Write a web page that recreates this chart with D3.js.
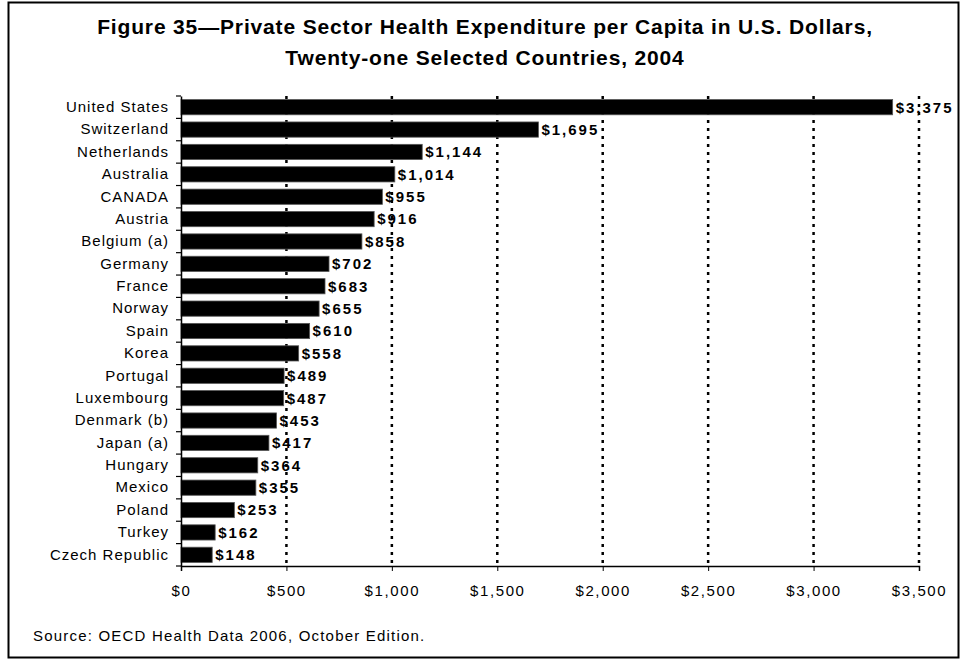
<!DOCTYPE html>
<html><head><meta charset="utf-8">
<script src="https://cdn.jsdelivr.net/npm/d3@7"></script>
<style>body{margin:0;background:#fff}</style>
</head><body>
<script>
const countries = ["United States","Switzerland","Netherlands","Australia","CANADA","Austria","Belgium (a)","Germany","France","Norway","Spain","Korea","Portugal","Luxembourg","Denmark (b)","Japan (a)","Hungary","Mexico","Poland","Turkey","Czech Republic"];
const values = [3375,1695,1144,1014,955,916,858,702,683,655,610,558,489,487,453,417,364,355,253,162,148];
const xTicks = [0,500,1000,1500,2000,2500,3000,3500];
const titleLines = ["Figure 35\u2014Private Sector Health Expenditure per Capita in U.S. Dollars,","Twenty-one Selected Countries, 2004"];
const source = "Source: OECD Health Data 2006, October Edition.";

const FONT="Liberation Sans, Arial, sans-serif";
const W=967,H=660;
const svg=d3.select("body").append("svg").attr("width",W).attr("height",H);
svg.append("rect").attr("x",8.5).attr("y",2.5).attr("width",950).attr("height",655).attr("fill","none").attr("stroke","#000").attr("stroke-width",2);

svg.selectAll("text.title").data(titleLines).join("text").attr("class","title")
  .attr("x",485).attr("y",(d,i)=>34+i*31).attr("text-anchor","middle")
  .attr("font-family",FONT).attr("font-weight","bold").attr("font-size",21).attr("letter-spacing","0.85px")
  .text(d=>d);

const x=d3.scaleLinear().domain([0,3500]).range([181,919]);
const y=d3.scaleBand().domain(countries).range([96,566]).paddingInner(0.32).paddingOuter(0.16);

// grid
svg.append("g").selectAll("line").data(xTicks.slice(1)).join("line")
  .attr("x1",d=>x(d)).attr("x2",d=>x(d)).attr("y1",96).attr("y2",566)
  .attr("stroke","#000").attr("stroke-width",2.5).attr("stroke-dasharray","3,5");

// bars
svg.append("g").selectAll("rect").data(values).join("rect")
  .attr("x",x(0)).attr("y",(d,i)=>y(countries[i]))
  .attr("width",d=>x(d)-x(0)).attr("height",y.bandwidth())
  .attr("fill","#000").attr("stroke","#555").attr("stroke-width",0.8);

// value labels
svg.append("g").selectAll("text").data(values).join("text")
  .attr("x",d=>x(d)+3).attr("y",(d,i)=>y(countries[i])+y.bandwidth()/2)
  .attr("dy","0.36em").attr("font-family",FONT)
  .attr("font-weight","bold").attr("font-size",15).attr("letter-spacing","2px")
  .text(d=>"$"+d3.format(",")(d));

// x axis
const xa=svg.append("g").attr("transform","translate(0,566)")
  .call(d3.axisBottom(x).tickValues(xTicks).tickSize(5).tickFormat(d=>"$"+d3.format(",")(d)));
xa.select(".domain").attr("stroke-width",1.5);
xa.selectAll("text").attr("font-family",FONT).attr("font-size",15).attr("dy","1.45em").attr("letter-spacing","1.6px").attr("fill","#000");

// y axis
const ya=svg.append("g").attr("transform","translate(181,0)")
  .call(d3.axisLeft(y).tickSize(0).tickPadding(12));
ya.select(".domain").attr("stroke-width",1.5);
ya.selectAll("text").attr("font-family",FONT).attr("font-size",15).attr("letter-spacing","1px").attr("fill","#000");
// category boundary ticks
const bounds=countries.map(c=>y(c)-y.step()*y.paddingInner()/2).concat([566]);
svg.append("g").selectAll("line").data(bounds).join("line")
  .attr("x1",176).attr("x2",181).attr("y1",d=>d).attr("y2",d=>d).attr("stroke","#000").attr("stroke-width",1.2);

svg.append("text").attr("x",33).attr("y",641).attr("font-family",FONT).attr("font-size",15).attr("letter-spacing","1.2px").text(source);
</script>
</body></html>
